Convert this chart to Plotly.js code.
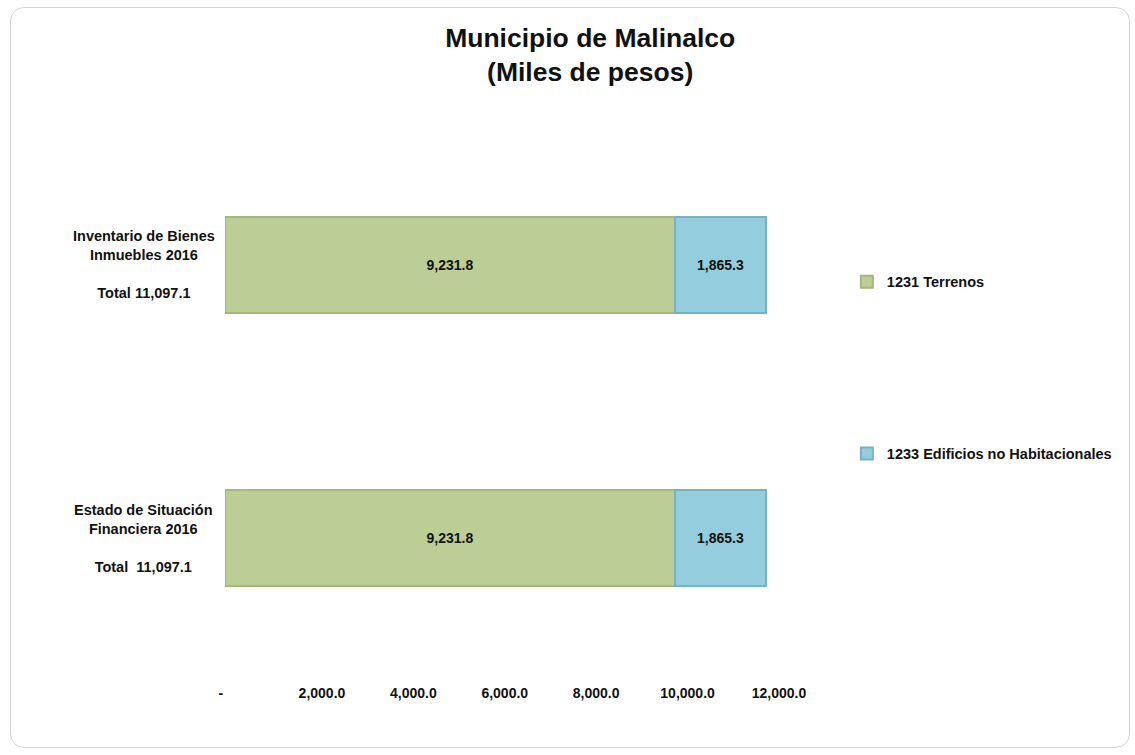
<!DOCTYPE html>
<html>
<head>
<meta charset="utf-8">
<script src="https://cdn.plot.ly/plotly-3.0.1.min.js"></script>
<style>
  html, body { margin: 0; padding: 0; background: #ffffff; }
  #frame {
    position: absolute; left: 10px; top: 7px; width: 1118px; height: 739px;
    border: 1px solid #d4d4d4; border-radius: 14px; overflow: hidden; background: #ffffff;
  }
  #chart { position: absolute; left: -11px; top: -8px; width: 1135px; height: 755px; }
</style>
</head>
<body>
<div id="frame"><div id="chart"></div></div>
<script>
// ---- data ----
var categoryLine1 = ["Inventario de Bienes", "Estado de Situación"];
var categoryLine2 = ["Inmuebles 2016", "Financiera 2016"];
var totalPrefix = ["Total ", "Total\u00a0 "];
var categories = ["Inventario de Bienes Inmuebles 2016", "Estado de Situación Financiera 2016"];
var terrenos = [9231.8, 9231.8];
var edificios = [1865.3, 1865.3];
var seriesNames = ["1231 Terrenos", "1233 Edificios no Habitacionales"];
var tickValues = [0, 2000, 4000, 6000, 8000, 10000, 12000];

// ---- helpers ----
function fmt(v) {
  return v.toLocaleString("en-US", {minimumFractionDigits: 1, maximumFractionDigits: 1});
}
var tickText = tickValues.map(function (v) { return v === 0 ? "-\u00a0\u00a0\u00a0\u00a0\u00a0" : fmt(v); });

var FONT = "Liberation Sans, Arial, Helvetica, sans-serif";
var TXT = "#111111";

var traces = [
  {
    type: "bar", orientation: "h", name: seriesNames[0], legendgroup: "a",
    y: categories, x: terrenos, width: 0.352,
    marker: {color: "rgb(188,205,150)", line: {color: "rgb(165,184,124)", width: 2}},
    texttemplate: "%{x:,.1f}", textposition: "inside", insidetextanchor: "middle",
    constraintext: "none",
    textfont: {family: FONT, size: 14, color: TXT, weight: "bold"},
    hoverinfo: "x+name"
  },
  {
    type: "bar", orientation: "h", name: seriesNames[1], legendgroup: "b",
    y: categories, x: edificios, width: 0.352,
    marker: {color: "rgb(148,206,222)", line: {color: "rgb(118,178,196)", width: 2}},
    texttemplate: "%{x:,.1f}", textposition: "inside", insidetextanchor: "middle",
    constraintext: "none",
    textfont: {family: FONT, size: 14, color: TXT, weight: "bold"},
    hoverinfo: "x+name"
  },
  {
    // carrier for the tick-label axis (draws nothing)
    type: "scatter", mode: "none", x: tickValues,
    y: tickValues.map(function () { return categories[0]; }),
    xaxis: "x2", yaxis: "y", showlegend: false, hoverinfo: "skip"
  }
];

var annotations = categories.map(function (c, i) {
  var total = terrenos[i] + edificios[i];
  return {
    xref: "paper", yref: "y", x: -0.139, y: c, xanchor: "center", yanchor: "middle",
    align: "center", showarrow: false,
    text: categoryLine1[i] + "<br>" + categoryLine2[i] + "<br> <br>" + totalPrefix[i] + fmt(total),
    font: {family: FONT, size: 14.5, color: TXT, weight: "bold"}
  };
});

var layout = {
  width: 1135, height: 755,
  margin: {l: 225, r: 325, t: 128, b: 80},
  paper_bgcolor: "rgba(0,0,0,0)", plot_bgcolor: "rgba(0,0,0,0)",
  barmode: "stack",
  title: {
    text: "Municipio de Malinalco<br>(Miles de pesos)",
    font: {family: FONT, size: 26.5, color: TXT, weight: "bold"},
    xref: "container", yref: "container", x: 0.52, xanchor: "center",
    y: 0.938, yanchor: "middle"
  },
  xaxis: {
    range: [0, 12000], showgrid: false, zeroline: false, showline: false,
    showticklabels: false, ticks: "", fixedrange: true
  },
  xaxis2: {
    overlaying: "x", anchor: "y", side: "bottom",
    range: [-122, 12679],
    tickmode: "array", tickvals: tickValues, ticktext: tickText,
    showgrid: false, zeroline: false, showline: false, ticks: "",
    ticklabelstandoff: 8, fixedrange: true,
    tickfont: {family: FONT, size: 14, color: TXT, weight: "bold"}
  },
  yaxis: {
    type: "category", range: [1.5, -0.5], showgrid: false, zeroline: false,
    showline: false, showticklabels: false, ticks: "", fixedrange: true
  },
  legend: {
    x: 1.063, xanchor: "left", y: 0.748, yanchor: "top",
    traceorder: "grouped", tracegroupgap: 150,
    font: {family: FONT, size: 14.5, color: TXT, weight: "bold"},
    bgcolor: "rgba(0,0,0,0)", itemwidth: 30
  },
  annotations: annotations,
  showlegend: true
};

Plotly.newPlot("chart", traces, layout, {displayModeBar: false});
</script>
</body>
</html>
